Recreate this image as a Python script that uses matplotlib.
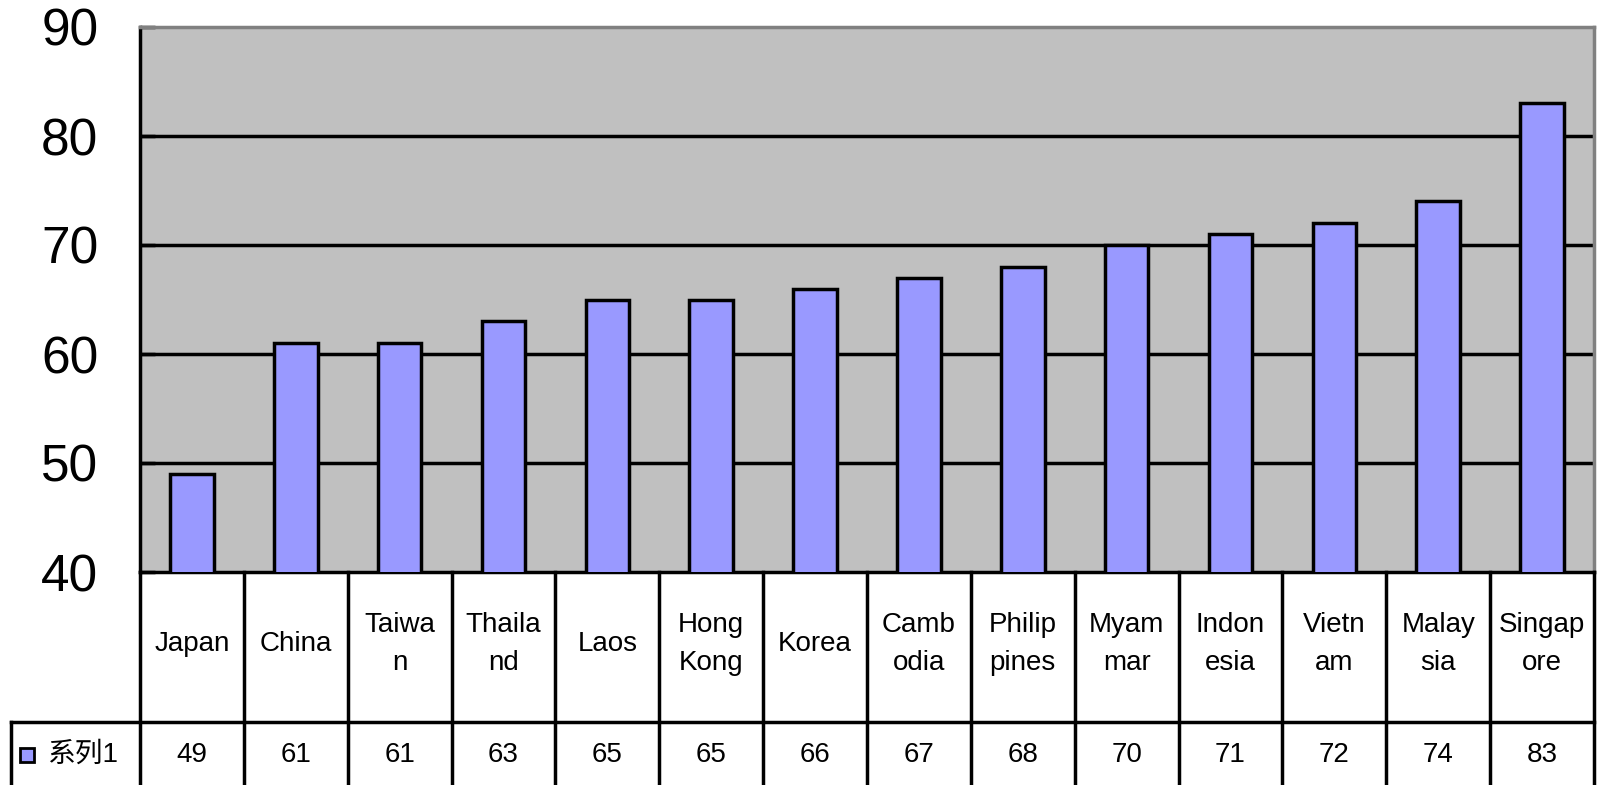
import matplotlib.pyplot as plt
import numpy as np

plt.rcParams['font.family'] = ['Liberation Sans', 'Noto Sans CJK SC', 'DejaVu Sans']

# 数据
countries = ['Japan', 'China', 'Taiwan', 'Thailand', 'Laos', 'Hong Kong', 'Korea',
             'Cambodia', 'Philippines', 'Myanmar', 'Indonesia', 'Vietnam',
             'Malaysia', 'Singapore']
# 表格中的换行显示
cell_labels = ['Japan', 'China', 'Taiwa\nn', 'Thaila\nnd', 'Laos', 'Hong\nKong', 'Korea',
               'Camb\nodia', 'Philip\npines', 'Myam\nmar', 'Indon\nesia', 'Vietn\nam',
               'Malay\nsia', 'Singap\nore']
values = [49, 61, 61, 63, 65, 65, 66, 67, 68, 70, 71, 72, 74, 83]
series_name = '系列1'
yticks = [40, 50, 60, 70, 80, 90]

W, H = 1601, 785
fig = plt.figure(figsize=(W / 100, H / 100), dpi=100)

left, right, top, bottom = 140, 1594, 27, 572
ax = fig.add_axes([left / W, 1 - bottom / H, (right - left) / W, (bottom - top) / H])
ax.set_facecolor('#C0C0C0')

x = np.arange(len(values))
ax.bar(x, values, width=0.42, color='#9999FF', edgecolor='black', linewidth=2.5, zorder=3)

ax.set_xlim(-0.5, len(values) - 0.5)
ax.set_ylim(40, 90)
ax.set_yticks(yticks)
ax.set_yticklabels([str(t) for t in yticks], fontsize=37)
ax.set_xticks([])
ax.tick_params(axis='y', direction='in', length=11, width=2.5, pad=30)
for t in [50, 60, 70, 80]:
    ax.axhline(t, color='black', linewidth=2.5, zorder=2)

for side in ['left', 'bottom']:
    ax.spines[side].set_linewidth(2.5)
    ax.spines[side].set_color('black')
for side in ['top', 'right']:
    ax.spines[side].set_linewidth(2.5)
    ax.spines[side].set_color('#808080')

# 数据表（x 与柱状图相同，y 为像素，自上而下）
tab = fig.add_axes([left / W, 0, (right - left) / W, (H - bottom) / H])
tab.set_xlim(-0.5, len(values) - 0.5)
tab.set_ylim(H, bottom)
tab.axis('off')

col_w = (right - left) / len(values)
legend_left = -0.5 - (left - 11) / col_w
row_split = 722
lw = 2.5

for i in range(len(values) + 1):
    tab.plot([i - 0.5, i - 0.5], [bottom, H + 5], color='black', lw=lw, clip_on=False)
tab.plot([legend_left, len(values) - 0.5], [row_split, row_split], color='black', lw=lw,
         clip_on=False)
tab.plot([legend_left, legend_left], [row_split, H + 5], color='black', lw=lw, clip_on=False)

for i, (lab, v) in enumerate(zip(cell_labels, values)):
    tab.text(i, 644, lab, ha='center', va='center', fontsize=20, linespacing=1.6)
    tab.text(i, 755, str(v), ha='center', va='center', fontsize=20)

# 图例
key_x = legend_left + 9 / col_w
tab.add_patch(plt.Rectangle((key_x, 748), 14 / col_w, 14, facecolor='#9999FF',
                            edgecolor='black', lw=2, clip_on=False))
tab.text(legend_left + 36 / col_w, 755, series_name, ha='left', va='center', fontsize=20)

fig.savefig('out.png', dpi=100)
